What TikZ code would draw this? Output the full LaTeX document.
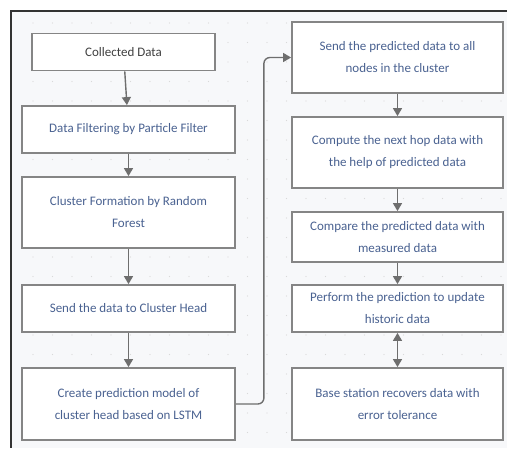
\documentclass[tikz,border=0pt]{standalone}
\usepackage{fontspec}
\setmainfont{Carlito}
\usepackage{tikz}
\usetikzlibrary{arrows.meta}

\definecolor{boxline}{HTML}{858585}
\definecolor{arrowline}{HTML}{6E6E6E}
\definecolor{steptext}{HTML}{4A6291}
\definecolor{paper}{HTML}{F7F8FA}

\begin{document}
\begin{tikzpicture}[x=1pt, y=-1pt,
		stepbox/.style={draw=boxline, line width=1.8pt, fill=white, rectangle, inner sep=0pt,
			align=center, text=steptext, font=\fontsize{13}{22}\selectfont},
		flow/.style={draw=arrowline, line width=1.4pt, ->, >={Triangle[width=9pt,length=8pt]}}]
				\useasboundingbox (0,0) rectangle (507,448);
				\fill[paper] (11,11) rectangle (507,448);
				% dotted grid
				\foreach \gx in {0,...,24}
					\foreach \gy in {0,...,21}
						\fill[gray!30] (33+19.5*\gx, 23+19.5*\gy) circle (0.6pt);
				\draw[black!80, line width=1.6pt] (507,11) -- (11,11) -- (11,448);
				% left column
				\node[stepbox, minimum width=183pt, minimum height=37pt, text=black!75] (CD)at(123.5, 52) {Collected Data};
				\node[stepbox, minimum width=213pt, minimum height=47pt] (DF)at(128.5, 129.5) {Data Filtering by Particle Filter};
				\node[stepbox, minimum width=213pt, minimum height=71pt] (CF)at(128.5, 212.5) {Cluster Formation by Random\\Forest};
				\node[stepbox, minimum width=213pt, minimum height=47pt] (SC)at(128.5, 308.5) {Send the data to Cluster Head};
				\node[stepbox, minimum width=213pt, minimum height=72pt] (CP)at(128.5, 404) {Create prediction model of\\cluster head based on LSTM};
				% right column
				\node[stepbox, minimum width=211pt, minimum height=71pt] (SP)at(397.5, 57.5) {Send the predicted data to all\\nodes in the cluster};
				\node[stepbox, minimum width=211pt, minimum height=71pt] (CN)at(397.5, 152.5) {Compute the next hop data with\\the help of predicted data};
				\node[stepbox, minimum width=211pt, minimum height=50pt] (CM)at(397.5, 237) {Compare the predicted data with\\measured data};
				\node[stepbox, minimum width=211pt, minimum height=47pt] (PF)at(397.5, 308.5) {Perform the prediction to update\\historic data};
				\node[stepbox, minimum width=211pt, minimum height=72pt] (BS)at(397.5, 404) {Base station recovers data with\\error tolerance};
				\draw[flow] (CD) -- (DF);
				\draw[flow] (DF) -- (CF);
				\draw[flow] (CF) -- (SC);
				\draw[flow] (SC) -- (CP);
				\draw[flow, rounded corners=6pt] (CP.east) -- ++(28,0) |- (SP.west);
				\draw[flow] (SP) -- (CN);
				\draw[flow] (CN) -- (CM);
				\draw[flow] (CM) -- (PF);
				\draw[flow, <->] (PF) -- (BS);
			\end{tikzpicture}
\end{document}
